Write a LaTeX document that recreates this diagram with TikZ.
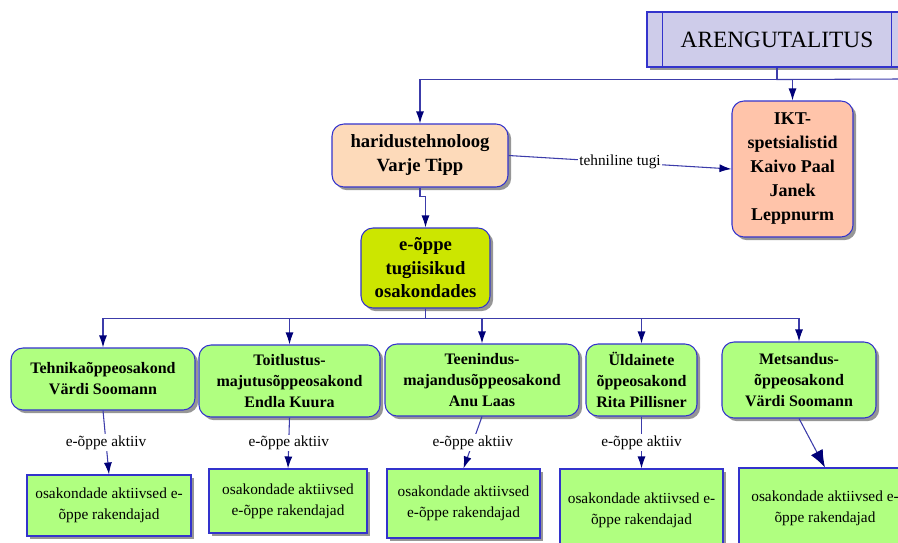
\documentclass[tikz,border=0pt]{standalone}
\usepackage{fontspec}
\setmainfont{Liberation Serif}
\usetikzlibrary{arrows.meta,shadows}
\definecolor{orgblue}{RGB}{51,51,204}
\definecolor{lineblue}{RGB}{60,60,170}
\definecolor{tipnavy}{RGB}{0,0,120}
\definecolor{headlav}{RGB}{206,204,234}
\definecolor{peach}{RGB}{253,218,186}
\definecolor{salmon}{RGB}{255,196,170}
\definecolor{lime}{RGB}{204,230,0}
\definecolor{deptgreen}{RGB}{176,255,128}
\definecolor{shadowgray}{RGB}{150,150,150}
\tikzset{
    orgshadow/.style={drop shadow={shadow xshift=2.4pt, shadow yshift=-2.4pt, fill=shadowgray, opacity=1}},
    headbox/.style={draw=orgblue, line width=0.8pt, fill=headlav, orgshadow,
        font=\fontsize{17.5}{20}\selectfont},
    orgbox/.style={draw=orgblue, line width=0.8pt, rounded corners=9pt, orgshadow,
        align=center, inner sep=2pt, font=\bfseries\fontsize{14}{18}\selectfont},
    deptbox/.style={draw=orgblue, line width=0.8pt, rounded corners=9pt, orgshadow,
        fill=deptgreen, align=center, inner sep=2pt, font=\bfseries\fontsize{12}{15.75}\selectfont},
    actbox/.style={draw=orgblue, line width=0.8pt, fill=deptgreen, orgshadow,
        align=center, inner sep=2pt, font=\fontsize{11.5}{15.75}\selectfont},
    orgline/.style={draw=lineblue, line width=0.8pt},
    orgarrow/.style={orgline, -{Latex[length=9pt,width=6pt,color=tipnavy]}},
    edgelabel/.style={fill=white, inner sep=1pt, font=\fontsize{11.5}{14}\selectfont}
}

\begin{document}
\begin{tikzpicture}[x=0.75pt,y=-0.75pt]
\useasboundingbox (0,0) rectangle (898,542);
\node[headbox, minimum width=195pt, minimum height=41.25pt] (arengu) at (777,39.5) {ARENGUTALITUS};
\draw[orgblue, line width=0.8pt] ([xshift=12pt]arengu.north west) -- ([xshift=12pt]arengu.south west);
\draw[orgblue, line width=0.8pt] ([xshift=-12pt]arengu.north east) -- ([xshift=-12pt]arengu.south east);
\node[orgbox, fill=peach, minimum width=132pt, minimum height=47.25pt] (hari) at (420,155.5) {haridustehnoloog\\Varje Tipp};
\node[orgbox, fill=salmon, minimum width=90.75pt, minimum height=102pt,
    font=\bfseries\fontsize{13.5}{18}\selectfont] (ikt) at (792.5,169) {IKT-\\spetsialistid\\Kaivo Paal\\Janek\\Leppnurm};
\node[orgbox, fill=lime, minimum width=96.75pt, minimum height=60pt,
    font=\bfseries\fontsize{14}{17.6}\selectfont] (eoppe) at (425.5,268) {e-õppe\\tugiisikud\\osakondades};
\node[deptbox, minimum width=138pt, minimum height=46.5pt] (d1) at (103,379) {Tehnikaõppeosakond\\Värdi Soomann};
\node[deptbox, minimum width=135.75pt, minimum height=54pt] (d2) at (289.5,381) {Toitlustus-\\majutusõppeosakond\\Endla Kuura};
\node[deptbox, minimum width=145.5pt, minimum height=54pt] (d3) at (482,380) {Teenindus-\\majandusõppeosakond\\Anu Laas};
\node[deptbox, minimum width=83.25pt, minimum height=54pt] (d4) at (641.5,380) {Üldainete\\õppeosakond\\Rita Pillisner};
\node[deptbox, minimum width=115.5pt, minimum height=57pt] (d5) at (799,380) {Metsandus-\\õppeosakond\\Värdi Soomann};
\node[actbox, minimum width=123pt, minimum height=45.75pt] (a1) at (109,505.5) {osakondade aktiivsed e-\\õppe rakendajad};
\node[actbox, minimum width=118.5pt, minimum height=48pt] (a2) at (288,501) {osakondade aktiivsed\\e-õppe rakendajad};
\node[actbox, minimum width=114.75pt, minimum height=51.75pt] (a3) at (463.5,503.5) {osakondade aktiivsed\\e-õppe rakendajad};
\node[actbox, minimum width=122.25pt, minimum height=61.5pt] (a4) at (641.5,510) {osakondade aktiivsed e-\\õppe rakendajad};
\node[actbox, minimum width=129pt, minimum height=60pt] (a5) at (825,508) {osakondade aktiivsed e-\\õppe rakendajad};
\coordinate (busend) at (900,79);
\draw[orgline] (arengu.south) -- ++(0,12) -- (busend);
\draw[orgarrow] (arengu.south) -- ++(0,12) -| (hari.north);
\draw[orgarrow] (arengu.south) -- ++(0,12) -| (ikt.north);
\draw[orgarrow] (hari.east) -- node[edgelabel] {tehniline tugi} (ikt.west);
\draw[orgarrow] (hari.south) -- ++(0,9) -| (eoppe.north);
\foreach \d in {d1,d2,d3,d4,d5}
    \draw[orgarrow] (eoppe.south) -- ++(0,10) -| (\d.north);
\foreach \i in {1,2,3,4}
    \draw[orgarrow] (d\i.south) -- node[edgelabel] {e-õppe aktiiv} (a\i.north);
\draw[orgline, -{Latex[length=13pt,width=10pt,color=tipnavy]}] (d5.south) -- (a5.north);
\end{tikzpicture}
\end{document}
